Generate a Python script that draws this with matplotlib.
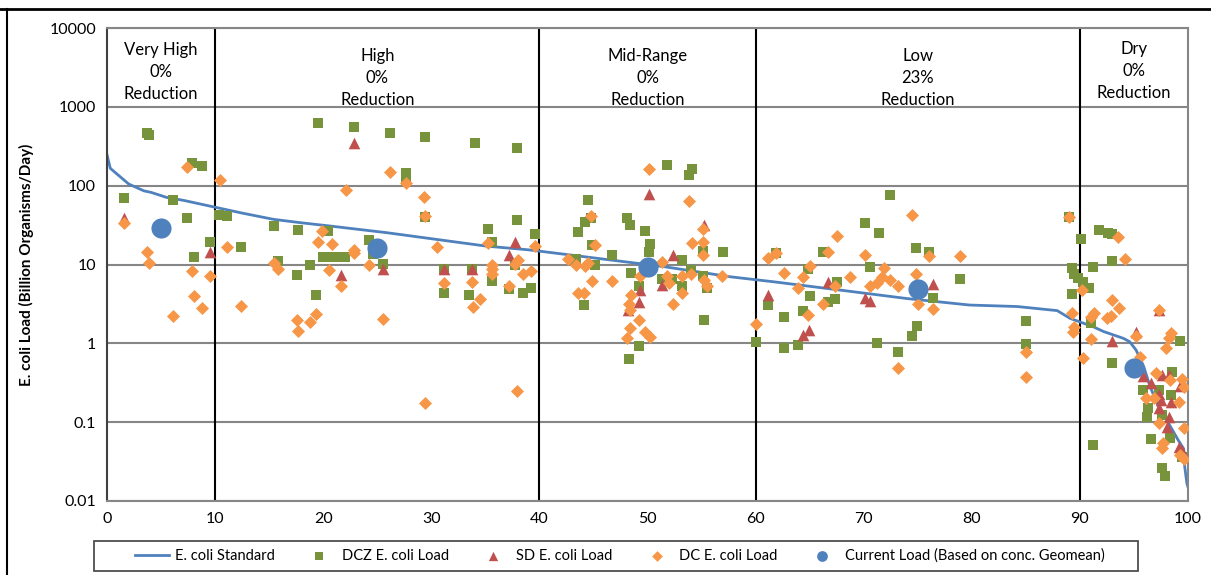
import matplotlib.pyplot as plt
from matplotlib.lines import Line2D
from matplotlib.patches import Rectangle
import matplotlib.transforms as mtransforms

plt.rcParams['font.family'] = ['Lato', 'DejaVu Sans']

# E. coli standard (load duration curve)
std_x = [0, 0.3, 2.0, 3.4, 4.1, 5.5, 7.1, 9.8, 12.6, 15.4, 17.9, 20.6, 25.9, 32.0, 35.1,
         39.1, 45.3, 51.5, 57.6, 61.6, 67.8, 74.0, 79.8, 84.2, 87.9, 89.1, 91.2, 92.2,
         94.0, 94.6, 95.2, 95.9, 96.5, 97.3, 98.2, 99.1, 99.6, 99.7, 99.9, 100]
std_y = [245, 166, 105, 86, 82, 71, 65, 54, 44.6, 37.4, 33.9, 30.8, 25.3, 19.5, 17.1,
         15.3, 12.0, 9.4, 7.0, 6.05, 4.74, 3.7, 3.06, 2.93, 2.6, 2.07, 1.63, 1.41,
         1.16, 1.05, 0.82, 0.51, 0.28, 0.157, 0.097, 0.059, 0.046, 0.027, 0.0167, 0.015]

# DCZ E. coli load
dcz_x = [1.55, 3.7, 3.9, 6.1, 7.4, 7.9, 8.8, 8.0, 9.5,
         10.4, 11.1, 12.4, 15.4, 15.8, 17.7, 17.6, 18.8, 19.3, 19.5, 20.4, 20.0, 20.7,
         21.3, 22.0, 22.8, 26.2, 29.4, 34.0, 37.9, 27.7, 27.7, 29.4, 24.2, 24.6, 25.5,
         31.2, 31.2, 33.8, 33.5, 35.2, 35.6, 35.6, 37.2, 38.5, 39.2, 37.9, 37.7, 39.6,
         44.5, 44.8, 44.2, 43.6, 44.9, 43.4, 45.1, 46.7, 44.1, 48.1, 48.4, 49.8, 50.2,
         50.1, 51.8, 54.1, 53.8, 55.1, 57.0, 53.2, 48.5, 54.0, 51.3, 52.3, 55.1, 55.5,
         53.2, 49.2, 49.2, 48.3, 55.2, 60.0,
         61.9, 61.1, 62.6, 62.6, 63.9, 64.4, 64.8, 65.0, 66.2, 67.5, 66.7, 67.3, 70.1,
         71.4, 70.6, 72.4, 71.2, 73.2, 74.8, 74.96, 74.5, 76.0, 76.4, 78.9, 85.0, 85.0, 89.0,
         90.1, 91.8, 92.6, 93.0, 93.0, 91.2, 89.3, 89.5, 89.8, 90.3, 90.8, 89.3, 91.0,
         99.3, 93.0, 95.8, 97.3, 98.5, 98.4, 96.3, 96.2, 97.6, 96.6, 98.3, 91.2, 99.4,
         97.6, 97.9]
dcz_y = [70, 460, 440, 65, 39, 194, 176, 12.6, 19.3,
         42, 41, 16.5, 30.8, 11.2, 27, 7.4, 9.9, 4.1, 618, 26.8, 12.6, 12.6,
         12.6, 12.6, 550, 470, 418, 348, 301, 144, 118, 40, 20.4, 13.5, 10.1,
         8.7, 4.35, 8.7, 4.1, 27.8, 19.5, 6.2, 4.9, 4.4, 5.0, 36.7, 10.0, 24.2,
         65, 38.8, 34.9, 25.8, 17.8, 11.7, 9.8, 13.2, 3.06, 38.5, 31.7, 26.6, 18.2,
         14.5, 183, 161, 135, 14.8, 14.5, 11.4, 7.9, 8.4, 6.5, 6.5, 7.1, 5.1,
         5.3, 5.3, 0.93, 0.63, 1.98, 1.03,
         13.9, 3.1, 2.16, 0.87, 0.95, 2.6, 8.8, 4.0, 14.3, 6.05, 3.3, 3.7, 33.3,
         25.1, 9.4, 77, 1.0, 0.78, 16.3, 1.66, 1.25, 14.3, 3.8, 6.5, 1.92, 0.98, 40,
         20.9, 27.4, 24.9, 24.4, 11.2, 9.4, 8.9, 7.6, 6.7, 6.05, 5.0, 4.2, 1.8,
         1.08, 0.57, 0.256, 0.256, 0.43, 0.22, 0.15, 0.115, 0.123, 0.061, 0.063, 0.052, 0.036,
         0.026, 0.0207]

# SD E. coli load
sd_x = [1.55, 9.5, 22.8, 21.6, 25.5, 31.2, 33.8, 37.7, 37.2, 50.1, 55.2, 52.4, 51.3,
        49.3, 49.2, 48.2, 61.1, 64.4, 64.9, 66.7, 70.1, 70.6, 76.4, 93.0, 95.2, 97.3,
        95.8, 96.6, 97.6, 98.2, 99.3, 97.3, 97.5, 97.3, 98.4, 98.2, 98.1, 99.2, 99.4]
sd_y = [38.5, 14.5, 344, 7.4, 8.85, 8.7, 8.7, 19.1, 13.1, 78, 31.7, 13.2, 5.5,
        4.75, 3.35, 2.65, 4.1, 1.28, 1.48, 6.05, 3.8, 3.4, 5.65, 1.08, 1.4, 2.65,
        0.385, 0.31, 0.40, 0.40, 0.29, 0.23, 0.19, 0.15, 0.18, 0.117, 0.088, 0.049, 0.043]

# DC E. coli load
dc_x = [1.55, 3.67, 3.86, 7.43, 7.9, 9.5, 8.0, 8.8, 6.1,
        10.45, 11.1, 12.4, 15.4, 15.8, 17.6, 17.7, 18.8, 19.3, 19.9, 19.5, 20.8, 20.5,
        22.1, 26.2, 27.7, 29.3, 29.4, 22.8, 22.8, 24.2, 21.6, 25.5, 30.5, 31.2, 33.8,
        34.5, 33.9, 35.2, 35.6, 35.6, 35.6, 37.2, 38.0, 37.7, 38.5, 39.2, 39.6, 29.4, 37.9,
        44.8, 45.1, 42.6, 43.4, 44.2, 44.5, 44.9, 46.7, 43.6, 44.1, 50.1, 53.8, 55.1,
        54.1, 55.1, 55.1, 51.3, 49.3, 54.0, 53.2, 51.8, 52.0, 55.2, 55.5, 56.9, 53.2,
        52.4, 48.5, 48.3, 48.4, 49.2, 48.4, 48.1, 49.8, 50.2, 60.0,
        61.1, 61.9, 62.6, 63.9, 64.4, 65.0, 64.8, 66.2, 66.7, 67.3, 67.5, 68.7, 70.1,
        71.9, 71.7, 71.2, 70.6, 72.4, 73.2, 73.2, 74.5, 74.8, 75.0, 76.0, 76.4, 78.9,
        85.0, 85.0, 89.0,
        93.5, 94.2, 90.2, 89.3, 89.5, 89.4, 91.0, 91.3, 91.0, 93.0, 93.6, 92.5, 92.9,
        95.2, 97.3, 98.4, 98.2, 98.0, 90.3, 95.6, 97.0, 98.3, 99.4, 99.6, 96.1, 96.9,
        99.2, 97.3, 99.6, 97.7, 97.6, 99.3, 99.6]
dc_y = [34, 14.5, 10.4, 174, 8.3, 7.2, 4.0, 2.83, 2.2,
        117, 16.5, 2.97, 10.4, 8.7, 2.0, 1.42, 1.86, 2.35, 26.8, 19.3, 18.2, 8.4,
        89, 150, 107, 71, 41, 15.3, 14.0, 10.0, 5.4, 2.03, 16.5, 5.8, 6.05,
        3.7, 2.9, 18.9, 10.0, 8.7, 7.6, 5.4, 11.4, 10.1, 7.6, 8.2, 17.3, 0.175, 0.25,
        41, 17.8, 11.7, 9.8, 9.5, 10.5, 6.2, 6.1, 4.3, 4.4, 161, 63, 27.9,
        18.5, 19.3, 13.2, 10.9, 7.1, 7.6, 7.2, 7.2, 5.9, 6.3, 5.3, 7.1, 4.4,
        3.2, 4.06, 3.15, 2.65, 1.96, 1.55, 1.16, 1.40, 1.21, 1.74,
        12.0, 13.9, 7.9, 5.1, 7.0, 9.7, 2.29, 3.2, 14.5, 5.4, 23, 7.0, 13.2,
        9.1, 7.0, 5.9, 5.3, 6.4, 5.4, 0.48, 42, 7.6, 3.2, 12.9, 2.7, 12.9,
        0.78, 0.37, 40,
        22.1, 11.6, 4.8, 2.45, 1.63, 1.4, 2.18, 2.45, 1.12, 3.5, 2.8, 2.07, 2.2,
        1.25, 2.65, 1.34, 1.16, 0.86, 0.65, 0.68, 0.42, 0.34, 0.35, 0.28, 0.20, 0.20,
        0.18, 0.099, 0.084, 0.054, 0.047, 0.0385, 0.034]

# current load (geomean) per flow regime
cur_x = [5, 25, 50, 75, 95]
cur_y = [28.8, 16.0, 9.4, 4.84, 0.49]

# flow regimes
bounds = [10, 40, 60, 90]
reg_x = [5, 25, 50, 75, 95]
reg_labels = ["Very High\n0%\nReduction", "High\n0%\nReduction", "Mid-Range\n0%\nReduction",
              "Low\n23%\nReduction", "Dry\n0%\nReduction"]
reg_top = [0.971, 0.958, 0.958, 0.958, 0.973]

fig = plt.figure(figsize=(12.11, 5.75), dpi=100)
ax = fig.add_axes([0.0884, 0.1287, 0.8926, 0.8226])

ax.set_yscale('log')
ax.set_xlim(0, 100)
ax.set_ylim(0.01, 10000)
ax.set_xticks(range(0, 101, 10))
ax.set_yticks([0.01, 0.1, 1, 10, 100, 1000, 10000])
ax.set_yticklabels(['0.01', '0.1', '1', '10', '100', '1000', '10000'])
ax.minorticks_off()
ax.tick_params(length=0, labelsize=11.5, pad=8)
ax.grid(axis='y', color='#868686', lw=1.5)
ax.set_axisbelow(True)
for s in ax.spines.values():
    s.set_color('#868686')
    s.set_linewidth(1.5)
ax.spines['left'].set_color('#404040')

for b in bounds:
    ax.axvline(b, color='black', lw=1.5, zorder=1)

tr = mtransforms.blended_transform_factory(ax.transData, ax.transAxes)
for xx, lab, top in zip(reg_x, reg_labels, reg_top):
    ax.text(xx, top, lab, transform=tr, ha='center', va='top', fontsize=12,
            linespacing=1.48)

ax.plot(std_x, std_y, color='#4F81BD', lw=2, zorder=2, label='E. coli Standard')
ax.scatter(dcz_x, dcz_y, marker='s', s=62, color='#77933C', lw=0, zorder=3,
           label='DCZ E. coli Load')
ax.scatter(sd_x, sd_y, marker='^', s=70, color='#C0504D', lw=0, zorder=4,
           label='SD E. coli Load')
ax.scatter(dc_x, dc_y, marker='D', s=44, color='#F79646', lw=0, zorder=5,
           label='DC E. coli Load')
ax.scatter(cur_x, cur_y, marker='o', s=210, color='#4F81BD', lw=0, zorder=6,
           label='Current Load (Based on conc. Geomean)')

ax.set_ylabel('E. coli Load (Billion Organisms/Day)', fontsize=11, fontweight='bold',
              labelpad=11)

h, l = ax.get_legend_handles_labels()
leg = fig.legend(h, l, loc='center', bbox_to_anchor=(0.512, 0.033), ncol=5,
                 fontsize=10.5, frameon=False, columnspacing=1.9, handlelength=2.3,
                 handletextpad=0.4)
for hd, sz in zip(leg.legend_handles[1:], [40, 45, 30, 60]):
    hd.set_sizes([sz])

# legend frame
fig.add_artist(Rectangle((94 / 1211, 1 - 571 / 575), (1138 - 94) / 1211, 30 / 575,
                         transform=fig.transFigure, fill=False, edgecolor='#404040', lw=1.2))

# outer chart frame
fig.add_artist(Line2D([0, 1], [0.985, 0.985], transform=fig.transFigure, color='black', lw=2))
fig.add_artist(Line2D([0.0055, 0.0055], [0, 0.985], transform=fig.transFigure, color='black', lw=1.5))

fig.savefig('out.png', dpi=100)
